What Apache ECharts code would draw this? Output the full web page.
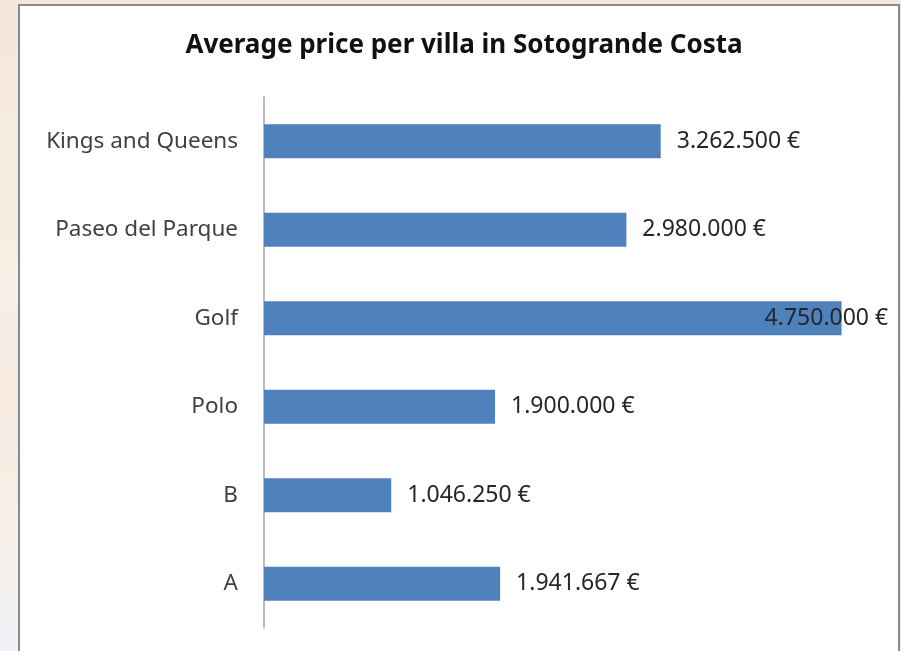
<!DOCTYPE html>
<html>
<head>
<meta charset="utf-8">
<script src="https://cdn.jsdelivr.net/npm/echarts@6/dist/echarts.min.js"></script>
<style>
html,body{margin:0;padding:0;width:901px;height:651px;overflow:hidden;
background:linear-gradient(180deg,#f3e6da 0%,#f7ece0 25%,#f8efe6 45%,#f6e9e0 60%,#f7f0e6 80%,#eef1f6 100%);}
#frame{position:absolute;left:18px;top:4px;width:882px;height:660px;background:#fff;border:2px solid #8a8a8a;box-sizing:border-box;}
#main{position:absolute;left:0;top:0;width:901px;height:651px;}
</style>
</head>
<body>
<div id="frame"></div>
<div id="main"></div>
<script>
const categories = ["A", "B", "Polo", "Golf", "Paseo del Parque", "Kings and Queens"];
const values = [1941667, 1046250, 1900000, 4750000, 2980000, 3262500];
const titleText = "Average price per villa in Sotogrande Costa";

function fmt(v){
  return String(v).replace(/\B(?=(\d{3})+(?!\d))/g, ".") + " €";
}

const chart = echarts.init(document.getElementById('main'), null, {renderer:'canvas'});
const data = values.map((v, i) => {
  const item = {value: v};
  if (categories[i] === "Golf") {
    item.label = {position: 'right', offset: [-93, 0]};
  }
  return item;
});
chart.setOption({
  backgroundColor: 'transparent',
  animation: false,
  title: {
    text: titleText,
    left: 459,
    textAlign: 'center',
    top: 28,
    textStyle: {fontFamily: 'Noto Sans', fontSize: 26, fontWeight: 'bold', color: '#111'}
  },
  grid: {left: 264, right: 29, top: 97, bottom: 23, containLabel: false},
  xAxis: {
    type: 'value', min: 0, max: 5000000,
    show: false
  },
  yAxis: {
    type: 'category', data: categories,
    axisLine: {show: true, lineStyle: {color: '#a6a6a6', width: 1.5}},
    axisTick: {show: false},
    axisLabel: {fontFamily: 'Noto Sans', fontSize: 22.5, color: '#404040', margin: 26}
  },
  series: [{
    type: 'bar',
    data: data,
    barWidth: 34,
    itemStyle: {color: '#4f81bd'},
    label: {
      show: true, position: 'right', distance: 16,
      fontFamily: 'Noto Sans', fontSize: 23, color: '#262626',
      formatter: p => fmt(p.value)
    }
  }]
});
</script>
</body>
</html>
